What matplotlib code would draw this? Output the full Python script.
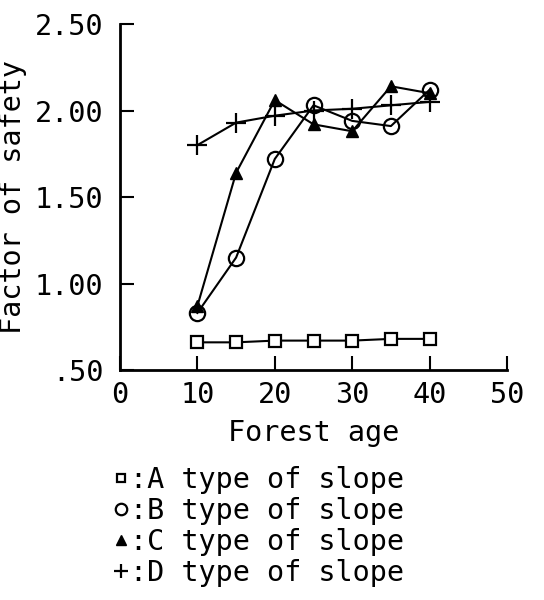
import matplotlib
matplotlib.use('Agg')
import matplotlib.pyplot as plt
from matplotlib.ticker import FixedLocator, FixedFormatter

# ─── Data ─────────────────────────────────────────────
forest_age = [10, 15, 20, 25, 30, 35, 40]
slope_a = [0.66, 0.66, 0.67, 0.67, 0.67, 0.68, 0.68]
slope_b = [0.83, 1.15, 1.72, 2.03, 1.94, 1.91, 2.12]
slope_c = [0.87, 1.64, 2.06, 1.92, 1.88, 2.14, 2.10]
slope_d = [1.80, 1.93, 1.97, 2.00, 2.01, 2.03, 2.05]

y_ticks = [0.5, 1.0, 1.5, 2.0, 2.5]
y_tick_labels = ['.50', '1.00', '1.50', '2.00', '2.50']
x_ticks = [0, 10, 20, 30, 40, 50]
legend_labels = [':A type of slope', ':B type of slope',
                 ':C type of slope', ':D type of slope']

FONT = 'DejaVu Sans Mono'
FS = 20.5

fig = plt.figure(figsize=(5.44, 6.0), dpi=100)
fig.patch.set_facecolor('white')
ax = fig.add_axes([0.2206, 0.3833, 0.7114, 0.5767])

lw = 1.5
la, = ax.plot(forest_age, slope_a, color='black', lw=lw, marker='s',
              ms=8, mfc='white', mec='black', mew=1.6)
lb, = ax.plot(forest_age, slope_b, color='black', lw=lw, marker='o',
              ms=11, mfc='none', mec='black', mew=1.6)
lc, = ax.plot(forest_age, slope_c, color='black', lw=lw, marker='^',
              ms=9, mfc='black', mec='black')
ld, = ax.plot(forest_age, slope_d, color='black', lw=lw, marker='+',
              ms=14, mew=1.6)

ax.set_xlim(0, 50)
ax.set_ylim(0.5, 2.5)
for s in ['top', 'right']:
    ax.spines[s].set_visible(False)
for s in ['left', 'bottom']:
    ax.spines[s].set_linewidth(2)

ax.xaxis.set_major_locator(FixedLocator(x_ticks))
ax.yaxis.set_major_locator(FixedLocator(y_ticks))
ax.yaxis.set_major_formatter(FixedFormatter(y_tick_labels))
ax.tick_params(direction='in', length=10, width=1.5, labelsize=FS)
ax.tick_params(axis='y', pad=12)
ax.tick_params(axis='x', pad=8)
for lab in ax.get_xticklabels() + ax.get_yticklabels():
    lab.set_fontfamily(FONT)

ax.set_xlabel('Forest age', fontsize=FS, fontfamily=FONT, labelpad=7)
ax.set_ylabel('Factor of safety', fontsize=FS, fontfamily=FONT, labelpad=6)

fig.legend([la, lb, lc, ld], legend_labels, loc='upper left',
           bbox_to_anchor=(0.21, 0.223), frameon=False,
           handlelength=0.5, handletextpad=0.05, labelspacing=0.1,
           prop={'family': FONT, 'size': FS}, markerscale=0.75,
           borderaxespad=0, borderpad=0)
for h in fig.legends[0].legend_handles:
    h.set_linestyle('none')

plt.savefig('out.png', dpi=100, facecolor='white')
plt.close()
